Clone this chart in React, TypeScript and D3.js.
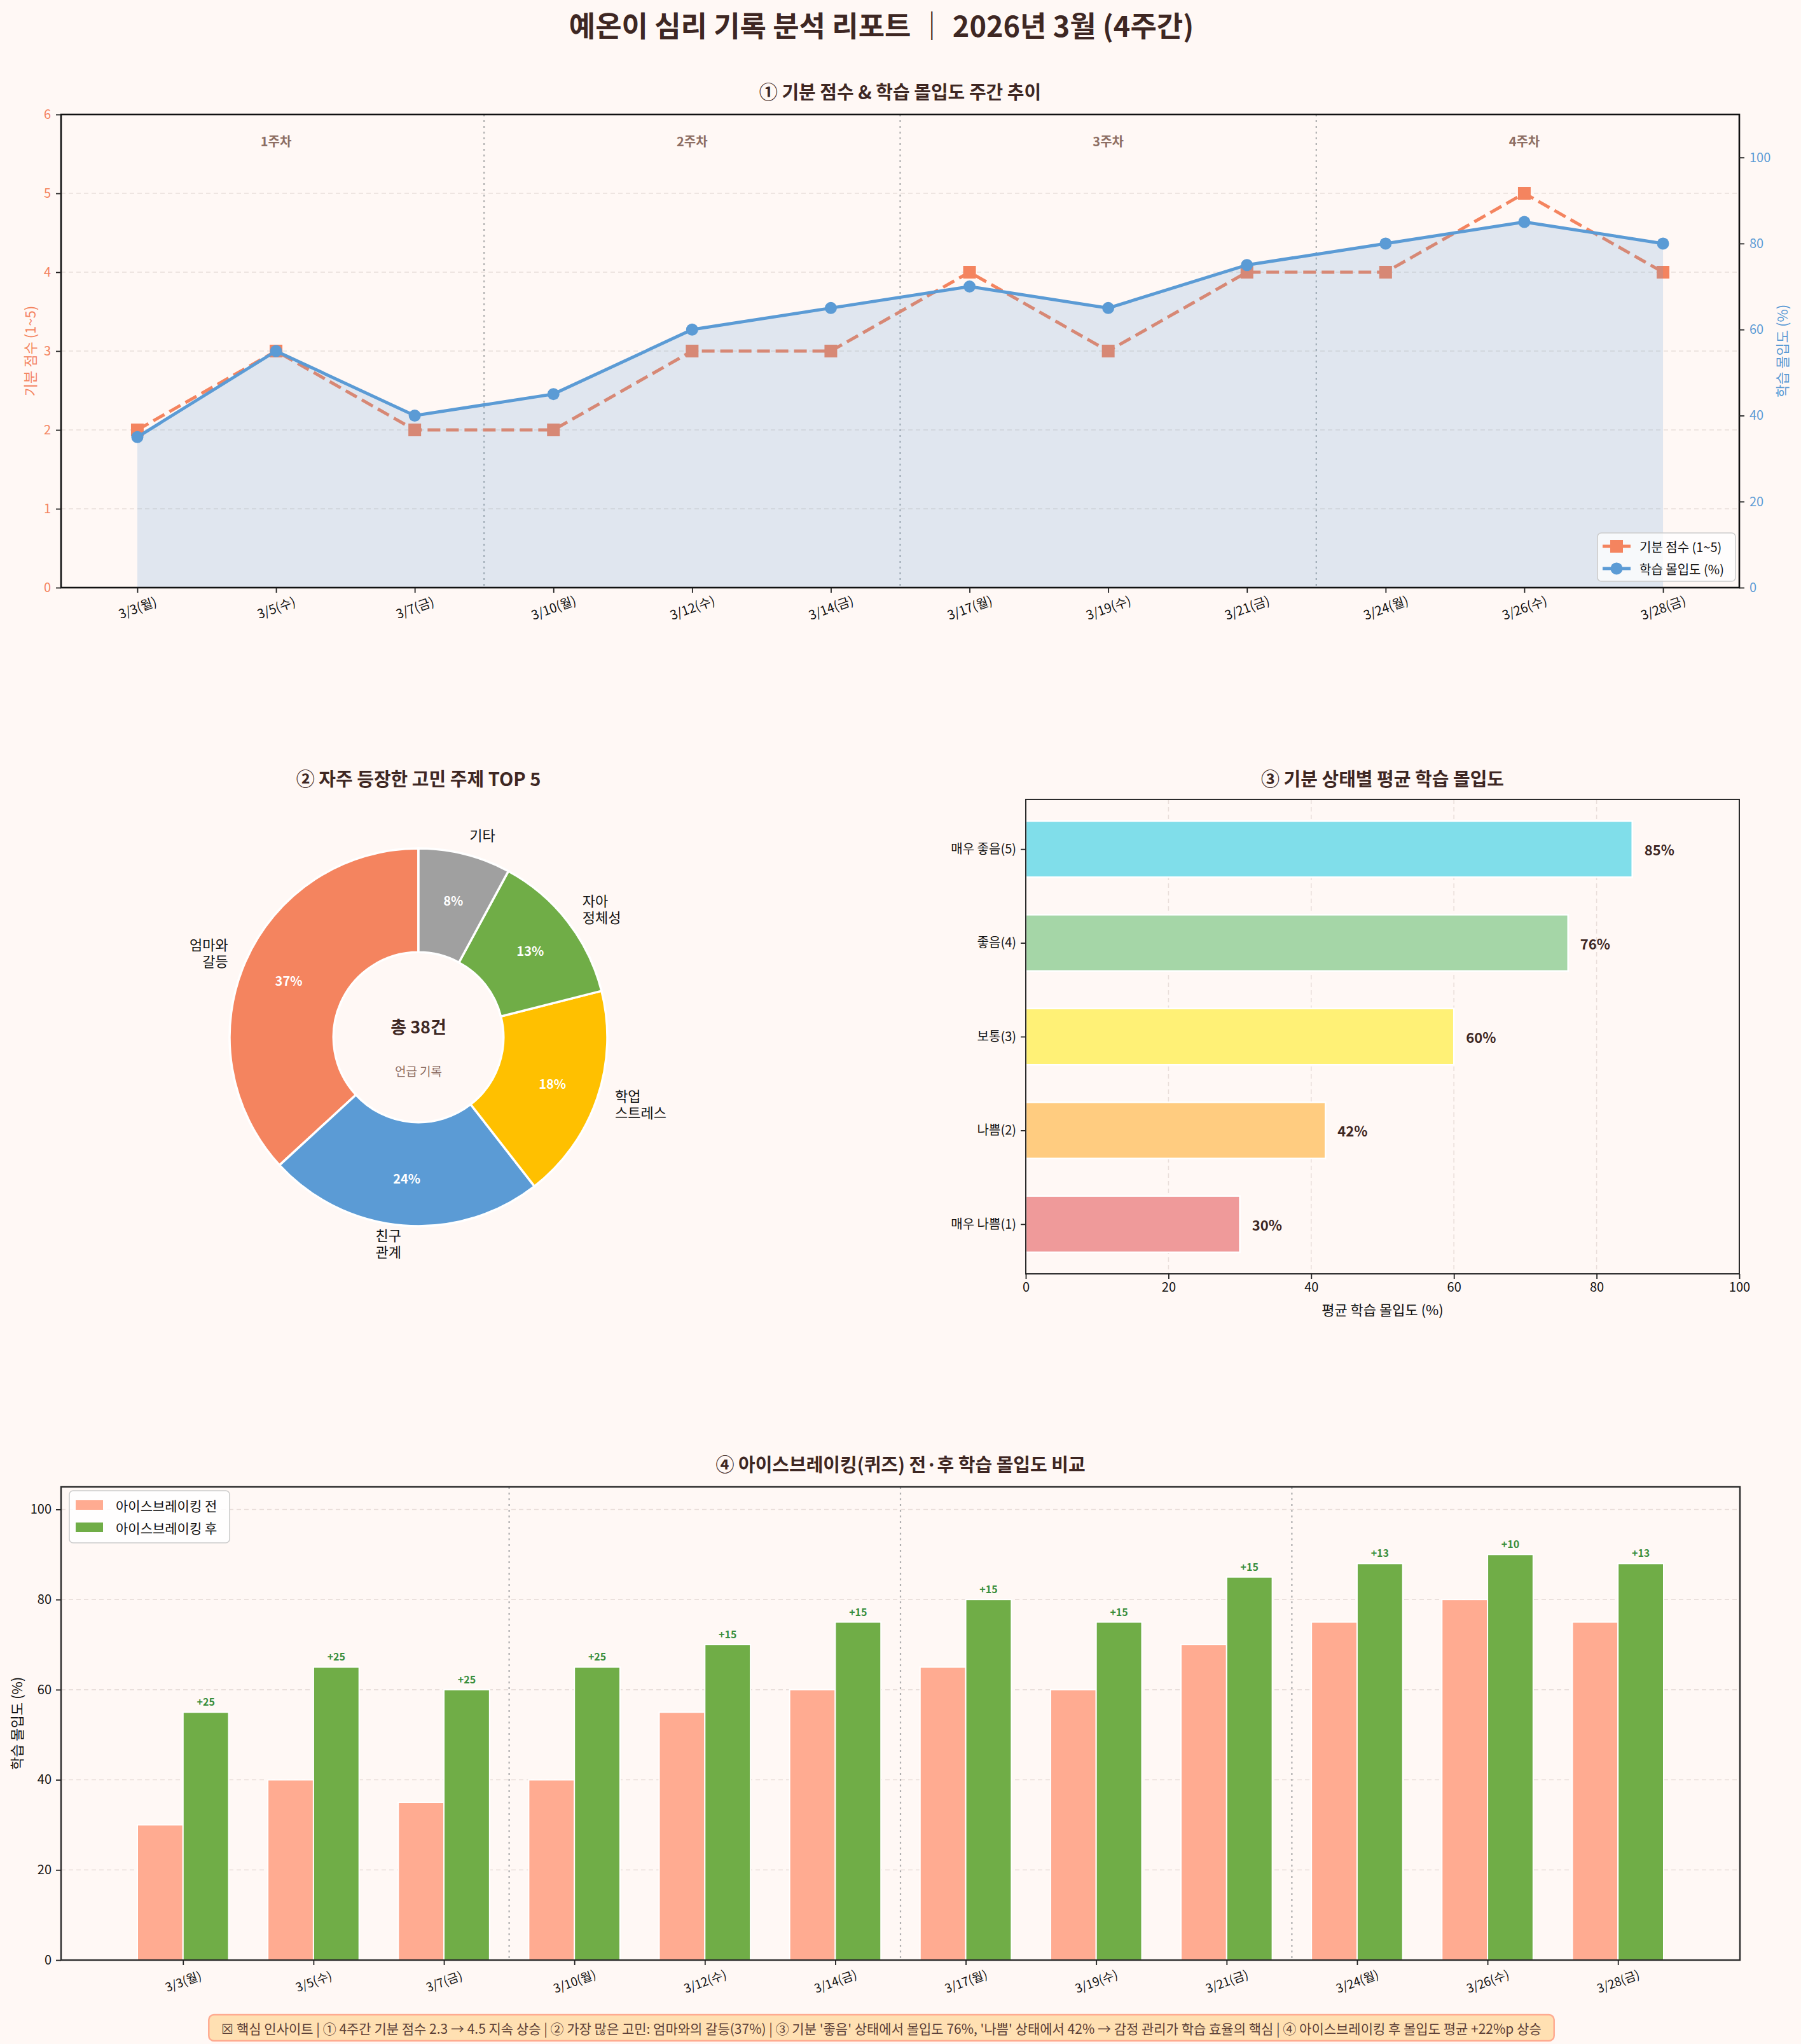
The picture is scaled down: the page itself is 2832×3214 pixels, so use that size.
import { useEffect, useRef } from 'react'
import * as d3 from 'd3'

const W = 2832
const H = 3214
const BG = '#FFF8F5'
const INK = '#3E2723'
const FONT = "'Noto Sans CJK KR', 'Noto Sans', sans-serif"

// daily records (Mon / Wed / Fri, 4 weeks)
const DATES = ['3/3(월)', '3/5(수)', '3/7(금)', '3/10(월)', '3/12(수)', '3/14(금)', '3/17(월)', '3/19(수)', '3/21(금)', '3/24(월)', '3/26(수)', '3/28(금)']
const MOOD = [2, 3, 2, 2, 3, 3, 4, 3, 4, 4, 5, 4]
const FOCUS = [35, 55, 40, 45, 60, 65, 70, 65, 75, 80, 85, 80]
const WEEKS = ['1주차', '2주차', '3주차', '4주차']

// worry topics
const WORRY_LABELS = ['엄마와\n갈등', '친구\n관계', '학업\n스트레스', '자아\n정체성', '기타']
const WORRY_COUNTS = [14, 9, 7, 5, 3]
const WORRY_COLORS = ['#F4845F', '#5B9BD5', '#FFC000', '#70AD47', '#A0A0A0']

// focus by mood state (bottom to top)
const MOOD_STATES = ['매우 나쁨(1)', '나쁨(2)', '보통(3)', '좋음(4)', '매우 좋음(5)']
const STATE_FOCUS = [30, 42, 60, 76, 85]
const STATE_COLORS = ['#EF9A9A', '#FFCC80', '#FFF176', '#A5D6A7', '#80DEEA']

// icebreaking quiz before / after
const BEFORE = [30, 40, 35, 40, 55, 60, 65, 60, 70, 75, 80, 75]
const AFTER = [55, 65, 60, 65, 70, 75, 80, 75, 85, 88, 90, 88]

const INSIGHT = "☒ 핵심 인사이트 | ① 4주간 기분 점수 2.3 → 4.5 지속 상승 | ② 가장 많은 고민: 엄마와의 갈등(37%) | ③ 기분 '좋음' 상태에서 몰입도 76%, '나쁨' 상태에서 42% → 감정 관리가 학습 효율의 핵심 | ④ 아이스브레이킹 후 몰입도 평균 +22%p 상승"

type Sel = d3.Selection<any, unknown, null, undefined>

function label(g: Sel, x: number, y: number, s: string, size: number, opts: Record<string, string | number> = {}) {
  const t = g.append('text').attr('x', x).attr('y', y)
    .attr('font-family', FONT).attr('font-size', size)
    .attr('text-anchor', 'middle').attr('dominant-baseline', 'central')
    .attr('fill', INK).text(s)
  Object.entries(opts).forEach(([k, v]) => t.attr(k, v))
  return t
}

function styleAxis(g: Sel, color: string, size: number) {
  g.select('.domain').remove()
  g.selectAll('.tick line').attr('stroke', '#222').attr('stroke-width', 1.8)
  g.selectAll('.tick text').attr('fill', color).attr('font-size', size).attr('font-family', FONT)
}

export default function App() {
  const svgRef = useRef<SVGSVGElement>(null)

  useEffect(() => {
    if (!svgRef.current) return
    const svg = d3.select(svgRef.current)
    svg.selectAll('*').remove()
    svg.append('rect').attr('width', W).attr('height', H).attr('fill', BG)

    label(svg, 1386, 38, '예온이 심리 기록 분석 리포트 ｜ 2026년 3월 (4주간)', 45, { 'font-weight': 700 })

    // ---------- ① mood & focus trend ----------
    {
      const L = 96, R = 2735, T = 180, B = 924
      const x = d3.scaleLinear().domain([-0.55, 11.55]).range([L, R])
      const yL = d3.scaleLinear().domain([0, 6]).range([B, T])
      const yR = d3.scaleLinear().domain([0, 110]).range([B, T])
      const g = svg.append('g')

      label(g, (L + R) / 2, 143, '① 기분 점수 & 학습 몰입도 주간 추이', 29, { 'font-weight': 700 })

      // grid
      d3.range(1, 6).forEach(v => {
        g.append('line').attr('x1', L).attr('x2', R).attr('y1', yL(v)).attr('y2', yL(v))
          .attr('stroke', '#E9DEDA').attr('stroke-width', 1.6).attr('stroke-dasharray', '7,5')
      })
      // week separators
      ;[2.5, 5.5, 8.5].forEach(v => {
        g.append('line').attr('x1', x(v)).attr('x2', x(v)).attr('y1', T).attr('y2', B)
          .attr('stroke', '#AFAFAF').attr('stroke-width', 2.2).attr('stroke-dasharray', '3,6')
      })

      // mood (left axis)
      const moodLine = d3.line<number>().x((_, i) => x(i)).y(d => yL(d))
      g.append('path').datum(MOOD).attr('d', moodLine).attr('fill', 'none')
        .attr('stroke', '#F4845F').attr('stroke-width', 5).attr('stroke-dasharray', '20,9')
      MOOD.forEach((d, i) => {
        g.append('rect').attr('x', x(i) - 10).attr('y', yL(d) - 10).attr('width', 20).attr('height', 20).attr('fill', '#F4845F')
      })

      // focus (right axis) with area fill
      const area = d3.area<number>().x((_, i) => x(i)).y0(yR(0)).y1(d => yR(d))
      g.append('path').datum(FOCUS).attr('d', area).attr('fill', '#5B9BD5').attr('fill-opacity', 0.19)
      const focusLine = d3.line<number>().x((_, i) => x(i)).y(d => yR(d))
      g.append('path').datum(FOCUS).attr('d', focusLine).attr('fill', 'none')
        .attr('stroke', '#5B9BD5').attr('stroke-width', 5)
      FOCUS.forEach((d, i) => {
        g.append('circle').attr('cx', x(i)).attr('cy', yR(d)).attr('r', 9.5).attr('fill', '#5B9BD5')
      })

      WEEKS.forEach((w, k) => label(g, x(1 + k * 3), 221, w, 20, { 'font-weight': 700, fill: '#8D6E63' }))

      g.append('rect').attr('x', L).attr('y', T).attr('width', R - L).attr('height', B - T)
        .attr('fill', 'none').attr('stroke', '#111').attr('stroke-width', 2.6)

      const ax = g.append('g').attr('transform', `translate(0,${B})`)
        .call(d3.axisBottom(x).tickValues(d3.range(12)).tickFormat(i => DATES[+i]).tickSize(8))
      styleAxis(ax, '#111', 20)
      ax.selectAll('.tick text').attr('y', 0).attr('dy', '0.35em')
        .attr('transform', 'translate(0,32) rotate(-20)').attr('text-anchor', 'middle')

      const al = g.append('g').attr('transform', `translate(${L},0)`)
        .call(d3.axisLeft(yL).ticks(6).tickSize(8).tickPadding(8))
      styleAxis(al, '#F4845F', 20)
      const ar = g.append('g').attr('transform', `translate(${R},0)`)
        .call(d3.axisRight(yR).tickValues([0, 20, 40, 60, 80, 100]).tickSize(8).tickPadding(8))
      styleAxis(ar, '#5B9BD5', 20)

      label(g, 0, 0, '기분 점수 (1~5)', 22, { fill: '#F4845F', transform: `translate(46,${(T + B) / 2}) rotate(-90)` })
      label(g, 0, 0, '학습 몰입도 (%)', 22, { fill: '#5B9BD5', transform: `translate(2801,${(T + B) / 2}) rotate(-90)` })

      // legend
      const lg = g.append('g').attr('transform', 'translate(2512,838)')
      lg.append('rect').attr('width', 217).attr('height', 76).attr('rx', 6)
        .attr('fill', '#FFFFFF').attr('fill-opacity', 0.75).attr('stroke', '#CCCCCC').attr('stroke-width', 1.6)
      lg.append('line').attr('x1', 8).attr('x2', 52).attr('y1', 21).attr('y2', 21)
        .attr('stroke', '#F4845F').attr('stroke-width', 5).attr('stroke-dasharray', '20,9')
      lg.append('rect').attr('x', 20).attr('y', 11).attr('width', 20).attr('height', 20).attr('fill', '#F4845F')
      lg.append('line').attr('x1', 8).attr('x2', 52).attr('y1', 56).attr('y2', 56)
        .attr('stroke', '#5B9BD5').attr('stroke-width', 5)
      lg.append('circle').attr('cx', 30).attr('cy', 56).attr('r', 9.5).attr('fill', '#5B9BD5')
      label(lg, 66, 21, '기분 점수 (1~5)', 20, { 'text-anchor': 'start', fill: '#111' })
      label(lg, 66, 56, '학습 몰입도 (%)', 20, { 'text-anchor': 'start', fill: '#111' })
    }

    // ---------- ② worry topics donut ----------
    {
      const cx = 658, cy = 1631, R = 297, r = R * 0.45
      const g = svg.append('g')
      label(g, cx, 1223, '② 자주 등장한 고민 주제 TOP 5', 29, { 'font-weight': 700 })

      const total = d3.sum(WORRY_COUNTS)
      const pie = d3.pie<number>().sort(null).startAngle(0).endAngle(-2 * Math.PI)
      const arcs = pie(WORRY_COUNTS)
      const arc = d3.arc<d3.PieArcDatum<number>>().innerRadius(r).outerRadius(R)
      const pg = g.append('g').attr('transform', `translate(${cx},${cy})`)
      arcs.forEach((a, i) => {
        pg.append('path').attr('d', arc(a) as string).attr('fill', WORRY_COLORS[i])
          .attr('stroke', '#FFFFFF').attr('stroke-width', 3.5)
      })
      arcs.forEach((a, i) => {
        const mid = (a.startAngle + a.endAngle) / 2
        const sx = Math.sin(mid), sy = -Math.cos(mid)
        const pct = Math.round((a.data / total) * 100)
        label(pg, sx * R * 0.75, sy * R * 0.75, `${pct}%`, 20, { 'font-weight': 700, fill: '#FFFFFF' })
        const lx = sx * R * 1.1, ly = sy * R * 1.1
        const lines = WORRY_LABELS[i].split('\n')
        const t = pg.append('text').attr('font-family', FONT).attr('font-size', 22).attr('fill', '#111')
          .attr('text-anchor', sx >= 0 ? 'start' : 'end')
        lines.forEach((ln, k) => {
          t.append('tspan').attr('x', lx).attr('y', ly + (k - (lines.length - 1) / 2) * 26).attr('dy', '0.35em').text(ln)
        })
      })
      label(pg, 0, -18, `총 ${total}건`, 27, { 'font-weight': 700 })
      label(pg, 0, 52, '언급 기록', 19, { fill: '#8D6E63' })
    }

    // ---------- ③ focus by mood state ----------
    {
      const L = 1613, R = 2735, T = 1257, B = 2003
      const x = d3.scaleLinear().domain([0, 100]).range([L, R])
      const y = d3.scaleLinear().domain([-0.53, 4.53]).range([B, T])
      const g = svg.append('g')
      label(g, (L + R) / 2, 1223, '③ 기분 상태별 평균 학습 몰입도', 29, { 'font-weight': 700 })

      d3.range(20, 100, 20).forEach(v => {
        g.append('line').attr('x1', x(v)).attr('x2', x(v)).attr('y1', T).attr('y2', B)
          .attr('stroke', '#E9DEDA').attr('stroke-width', 1.6).attr('stroke-dasharray', '7,5')
      })
      const bh = y(0) - y(0.6)
      STATE_FOCUS.forEach((v, i) => {
        g.append('rect').attr('x', x(0)).attr('y', y(i) - bh / 2).attr('width', x(v) - x(0)).attr('height', bh)
          .attr('fill', STATE_COLORS[i]).attr('stroke', '#FFFFFF').attr('stroke-width', 2.5)
        label(g, x(v + 1.7), y(i), `${v}%`, 22, { 'text-anchor': 'start', 'font-weight': 700 })
      })
      g.append('rect').attr('x', L).attr('y', T).attr('width', R - L).attr('height', B - T)
        .attr('fill', 'none').attr('stroke', '#2B2B2B').attr('stroke-width', 2)

      const ax = g.append('g').attr('transform', `translate(0,${B})`)
        .call(d3.axisBottom(x).tickValues(d3.range(0, 101, 20)).tickSize(8).tickPadding(6))
      styleAxis(ax, '#111', 20)
      const ay = g.append('g').attr('transform', `translate(${L},0)`)
        .call(d3.axisLeft(y).tickValues(d3.range(5)).tickFormat(i => MOOD_STATES[+i]).tickSize(8).tickPadding(7))
      styleAxis(ay, '#111', 20)
      label(g, (L + R) / 2, 2058, '평균 학습 몰입도 (%)', 22, { fill: '#111' })
    }

    // ---------- ④ before / after icebreaking ----------
    {
      const L = 96, R = 2736, T = 2338, B = 3082
      const x = d3.scaleLinear().domain([-0.935, 11.935]).range([L, R])
      const y = d3.scaleLinear().domain([0, 105]).range([B, T])
      const g = svg.append('g')
      label(g, (L + R) / 2, 2301, '④ 아이스브레이킹(퀴즈) 전·후 학습 몰입도 비교', 29, { 'font-weight': 700 })

      d3.range(20, 101, 20).forEach(v => {
        g.append('line').attr('x1', L).attr('x2', R).attr('y1', y(v)).attr('y2', y(v))
          .attr('stroke', '#E9DEDA').attr('stroke-width', 1.6).attr('stroke-dasharray', '7,5')
      })
      ;[2.5, 5.5, 8.5].forEach(v => {
        g.append('line').attr('x1', x(v)).attr('x2', x(v)).attr('y1', T).attr('y2', B)
          .attr('stroke', '#AFAFAF').attr('stroke-width', 2.2).attr('stroke-dasharray', '3,6')
      })
      const bw = x(0.35) - x(0)
      DATES.forEach((_, i) => {
        g.append('rect').attr('x', x(i - 0.35)).attr('y', y(BEFORE[i])).attr('width', bw).attr('height', y(0) - y(BEFORE[i]))
          .attr('fill', '#FFAB91').attr('stroke', '#FFFFFF').attr('stroke-width', 2)
        g.append('rect').attr('x', x(i)).attr('y', y(AFTER[i])).attr('width', bw).attr('height', y(0) - y(AFTER[i]))
          .attr('fill', '#70AD47').attr('stroke', '#FFFFFF').attr('stroke-width', 2)
        label(g, x(i + 0.175), y(AFTER[i] + 2.4), `+${AFTER[i] - BEFORE[i]}`, 16, { 'font-weight': 700, fill: '#388E3C' })
      })
      g.append('rect').attr('x', L).attr('y', T).attr('width', R - L).attr('height', B - T)
        .attr('fill', 'none').attr('stroke', '#2B2B2B').attr('stroke-width', 2.4)

      const ax = g.append('g').attr('transform', `translate(0,${B})`)
        .call(d3.axisBottom(x).tickValues(d3.range(12)).tickFormat(i => DATES[+i]).tickSize(8))
      styleAxis(ax, '#111', 19)
      ax.selectAll('.tick text').attr('y', 0).attr('dy', '0.35em')
        .attr('transform', 'translate(0,34) rotate(-20)').attr('text-anchor', 'middle')
      const ay = g.append('g').attr('transform', `translate(${L},0)`)
        .call(d3.axisLeft(y).tickValues(d3.range(0, 101, 20)).tickSize(8).tickPadding(7))
      styleAxis(ay, '#111', 20)
      label(g, 0, 0, '학습 몰입도 (%)', 22, { fill: '#111', transform: `translate(25,${(T + B) / 2}) rotate(-90)` })

      const lg = g.append('g').attr('transform', 'translate(109,2344)')
      lg.append('rect').attr('width', 252).attr('height', 82).attr('rx', 6)
        .attr('fill', '#FFFFFF').attr('fill-opacity', 0.85).attr('stroke', '#CCCCCC').attr('stroke-width', 1.6)
      lg.append('rect').attr('x', 10).attr('y', 15).attr('width', 43).attr('height', 15).attr('fill', '#FFAB91')
      lg.append('rect').attr('x', 10).attr('y', 50).attr('width', 43).attr('height', 15).attr('fill', '#70AD47')
      label(lg, 73, 23, '아이스브레이킹 전', 21, { 'text-anchor': 'start', fill: '#111' })
      label(lg, 73, 58, '아이스브레이킹 후', 21, { 'text-anchor': 'start', fill: '#111' })
    }

    // ---------- insight banner ----------
    {
      const g = svg.append('g')
      const t = label(g, 1386, 3189, INSIGHT, 21, { fill: '#5D4037' })
      const bb = (t.node() as SVGTextElement).getBBox()
      g.insert('rect', 'text').attr('x', bb.x - 20).attr('y', 3168).attr('width', bb.width + 40).attr('height', 41)
        .attr('rx', 8).attr('fill', '#FFE0B2').attr('stroke', '#FFAB91').attr('stroke-width', 2.5)
    }
  }, [])

  return (
    <svg ref={svgRef} width={W} height={H} style={{ position: 'absolute', left: 0, top: 0, display: 'block' }} />
  )
}
